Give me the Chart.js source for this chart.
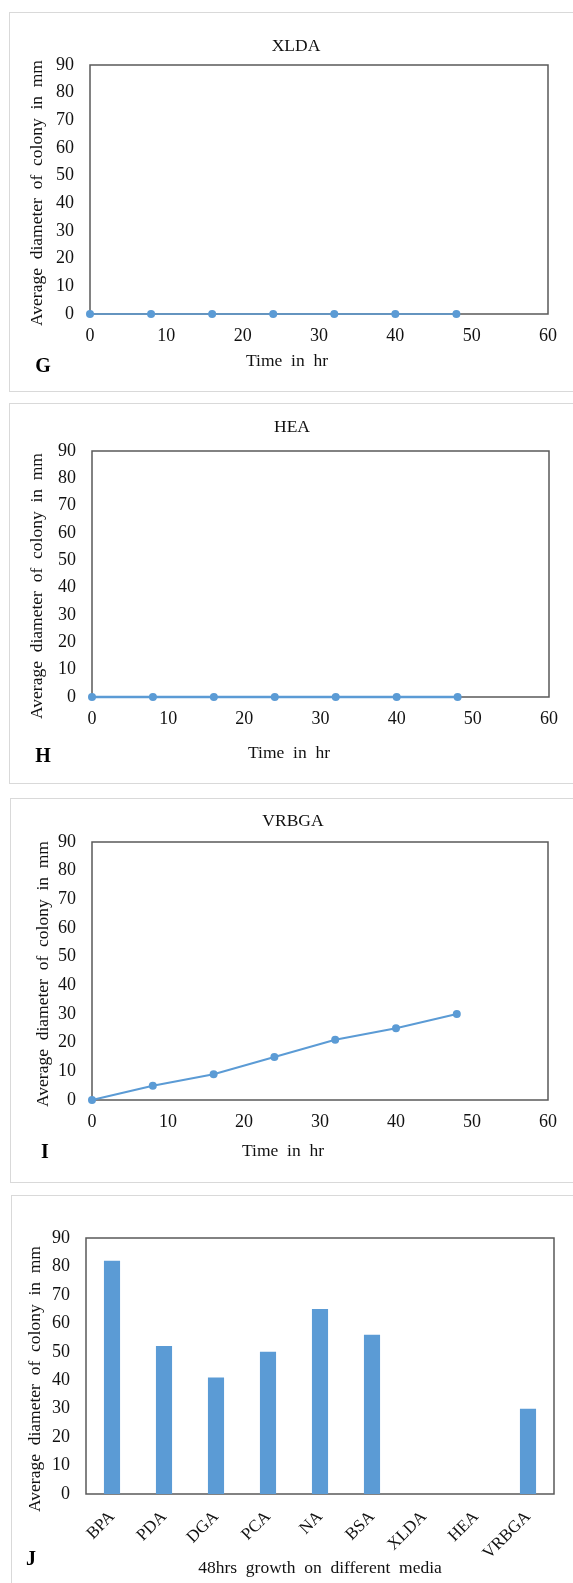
<!DOCTYPE html>
<html>
<head>
<meta charset="utf-8">
<script src="https://cdn.jsdelivr.net/npm/chart.js@4.4.0/dist/chart.umd.min.js"></script>
<style>
  html, body { margin: 0; padding: 0; background: #fff; }
  body { width: 573px; height: 1583px; position: relative; overflow: hidden;
         font-family: "Liberation Serif", "Times New Roman", serif; color: #111; }
  .panel { position: absolute; border: 1px solid #d9d9d9; box-sizing: border-box; }
  canvas { position: absolute; }
  .txt { position: absolute; white-space: pre; font-size: 17.5px; line-height: 1;
         transform: translate(-50%, -50%); }
  .ytitle { transform: translate(-50%, -50%) rotate(-90deg); }
  .letter { font-weight: bold; font-size: 20px; color: #000; }
</style>
</head>
<body>
<script>
// --- data ---
const hours = [0, 8, 16, 24, 32, 40, 48];
const xldaDiameter = [0, 0, 0, 0, 0, 0, 0];
const heaDiameter = [0, 0, 0, 0, 0, 0, 0];
const vrbgaDiameter = [0, 5, 9, 15, 21, 25, 30];

const media = ['BPA', 'PDA', 'DGA', 'PCA', 'NA', 'BSA', 'XLDA', 'HEA', 'VRBGA'];
const diameterAt48h = [82, 52, 41, 50, 65, 56, 0, 0, 30];

const timeTicks = [0, 10, 20, 30, 40, 50, 60];
const diameterTicks = [0, 10, 20, 30, 40, 50, 60, 70, 80, 90];

const Y_TITLE = 'Average  diameter  of  colony  in  mm';
const BLUE = '#5b9bd5';
const TEXT = '#111';
const PAGE_RIGHT = 575;

// 枠線（プロットエリア）
const plotFrame = {
  id: 'plotFrame',
  beforeDatasetsDraw(chart) {
    const { ctx, chartArea: a } = chart;
    ctx.save();
    ctx.strokeStyle = '#595959';
    ctx.lineWidth = 1.5;
    ctx.strokeRect(a.left, a.top, a.right - a.left, a.bottom - a.top);
    ctx.restore();
  }
};

const tickFont = { family: '"Liberation Serif", "Times New Roman", serif', size: 18 };

function addText(text, x, y, cls) {
  const el = document.createElement('div');
  el.className = 'txt ' + (cls || '');
  el.textContent = text;
  el.style.left = x + 'px';
  el.style.top = y + 'px';
  document.body.appendChild(el);
}

function addPanel(p) {
  const box = document.createElement('div');
  box.className = 'panel';
  box.style.left = p.box.left + 'px';
  box.style.top = p.box.top + 'px';
  box.style.width = (PAGE_RIGHT + 5 - p.box.left) + 'px';
  box.style.height = (p.box.bottom - p.box.top + 1) + 'px';
  document.body.appendChild(box);

  const canvas = document.createElement('canvas');
  const w = PAGE_RIGHT - p.box.left;
  const h = p.box.bottom - p.box.top;
  canvas.width = w;
  canvas.height = h;
  canvas.style.left = p.box.left + 'px';
  canvas.style.top = p.box.top + 'px';
  canvas.style.width = w + 'px';
  canvas.style.height = h + 'px';
  document.body.appendChild(canvas);

  if (p.title) addText(p.title.text, p.title.x, p.title.y);
  addText(p.xTitle.text, p.xTitle.x, p.xTitle.y);
  addText(Y_TITLE, p.yTitle.x, p.yTitle.y, 'ytitle');
  addText(p.letter.text, p.letter.x, p.letter.y, 'letter');

  return { canvas, w, h };
}

function layoutFor(p, w) {
  return {
    padding: {
      left: 0,
      top: p.plot.top - p.box.top,
      right: w - (p.plot.right - p.box.left),
      bottom: 0
    }
  };
}

function yScale(p) {
  return {
    min: 0, max: 90,
    afterBuildTicks: (s) => { s.ticks = diameterTicks.map(v => ({ value: v })); },
    afterFit: (s) => { s.width = p.plot.left - p.box.left; },
    grid: { display: false, drawTicks: false },
    border: { display: false },
    ticks: { font: tickFont, color: TEXT, padding: 16 }
  };
}

function makeLineChart(p, values) {
  const { canvas, w } = addPanel(p);
  new Chart(canvas, {
    type: 'line',
    data: {
      datasets: [{
        data: hours.map((x, i) => ({ x, y: values[i] })),
        borderColor: BLUE,
        backgroundColor: BLUE,
        borderWidth: p.lineWidth,
        pointRadius: 4,
        pointBorderWidth: 0,
        clip: false,
        tension: 0
      }]
    },
    options: {
      responsive: false,
      devicePixelRatio: 1,
      animation: false,
      layout: layoutFor(p, w),
      plugins: { legend: { display: false }, tooltip: { enabled: false } },
      scales: {
        x: {
          type: 'linear',
          min: 0, max: 60,
          afterBuildTicks: (s) => { s.ticks = timeTicks.map(v => ({ value: v })); },
          afterFit: (s) => { s.height = p.box.bottom - p.plot.bottom; },
          grid: { display: false, drawTicks: false },
          border: { display: false },
          ticks: { font: tickFont, color: TEXT, padding: 11, maxRotation: 0 }
        },
        y: yScale(p)
      }
    },
    plugins: [plotFrame]
  });
}

function makeBarChart(p) {
  const { canvas, w } = addPanel(p);
  new Chart(canvas, {
    type: 'bar',
    data: {
      labels: media,
      datasets: [{
        data: diameterAt48h,
        backgroundColor: BLUE,
        borderWidth: 0,
        categoryPercentage: 1,
        barPercentage: 0.31
      }]
    },
    options: {
      responsive: false,
      devicePixelRatio: 1,
      animation: false,
      layout: layoutFor(p, w),
      plugins: { legend: { display: false }, tooltip: { enabled: false } },
      scales: {
        x: {
          afterFit: (s) => { s.height = p.box.bottom - p.plot.bottom; },
          grid: { display: false, drawTicks: false },
          border: { display: false },
          ticks: { font: { ...tickFont, size: 17 }, color: TEXT, padding: 13,
                   minRotation: 45, maxRotation: 45, autoSkip: false }
        },
        y: yScale(p)
      }
    },
    plugins: [plotFrame]
  });
}

const panelG = {
  box: { left: 9, top: 12, bottom: 391 },
  plot: { left: 90, top: 65, right: 548, bottom: 314 },
  title: { text: 'XLDA', x: 296, y: 46 },
  xTitle: { text: 'Time  in  hr', x: 287, y: 361 },
  yTitle: { x: 37, y: 193 },
  letter: { text: 'G', x: 43, y: 365 },
  lineWidth: 1.5
};
const panelH = {
  box: { left: 9, top: 403, bottom: 783 },
  plot: { left: 92, top: 451, right: 549, bottom: 697 },
  title: { text: 'HEA', x: 292, y: 427 },
  xTitle: { text: 'Time  in  hr', x: 289, y: 753 },
  yTitle: { x: 37, y: 586 },
  letter: { text: 'H', x: 43, y: 755 },
  lineWidth: 2.5
};
const panelI = {
  box: { left: 10, top: 798, bottom: 1182 },
  plot: { left: 92, top: 842, right: 548, bottom: 1100 },
  title: { text: 'VRBGA', x: 293, y: 821 },
  xTitle: { text: 'Time  in  hr', x: 283, y: 1151 },
  yTitle: { x: 43, y: 974 },
  letter: { text: 'I', x: 45, y: 1151 },
  lineWidth: 2
};
const panelJ = {
  box: { left: 11, top: 1195, bottom: 1590 },
  plot: { left: 86, top: 1238, right: 554, bottom: 1494 },
  xTitle: { text: '48hrs  growth  on  different  media', x: 320, y: 1568 },
  yTitle: { x: 35, y: 1379 },
  letter: { text: 'J', x: 31, y: 1558 }
};

makeLineChart(panelG, xldaDiameter);
makeLineChart(panelH, heaDiameter);
makeLineChart(panelI, vrbgaDiameter);
makeBarChart(panelJ);
</script>
</body>
</html>
